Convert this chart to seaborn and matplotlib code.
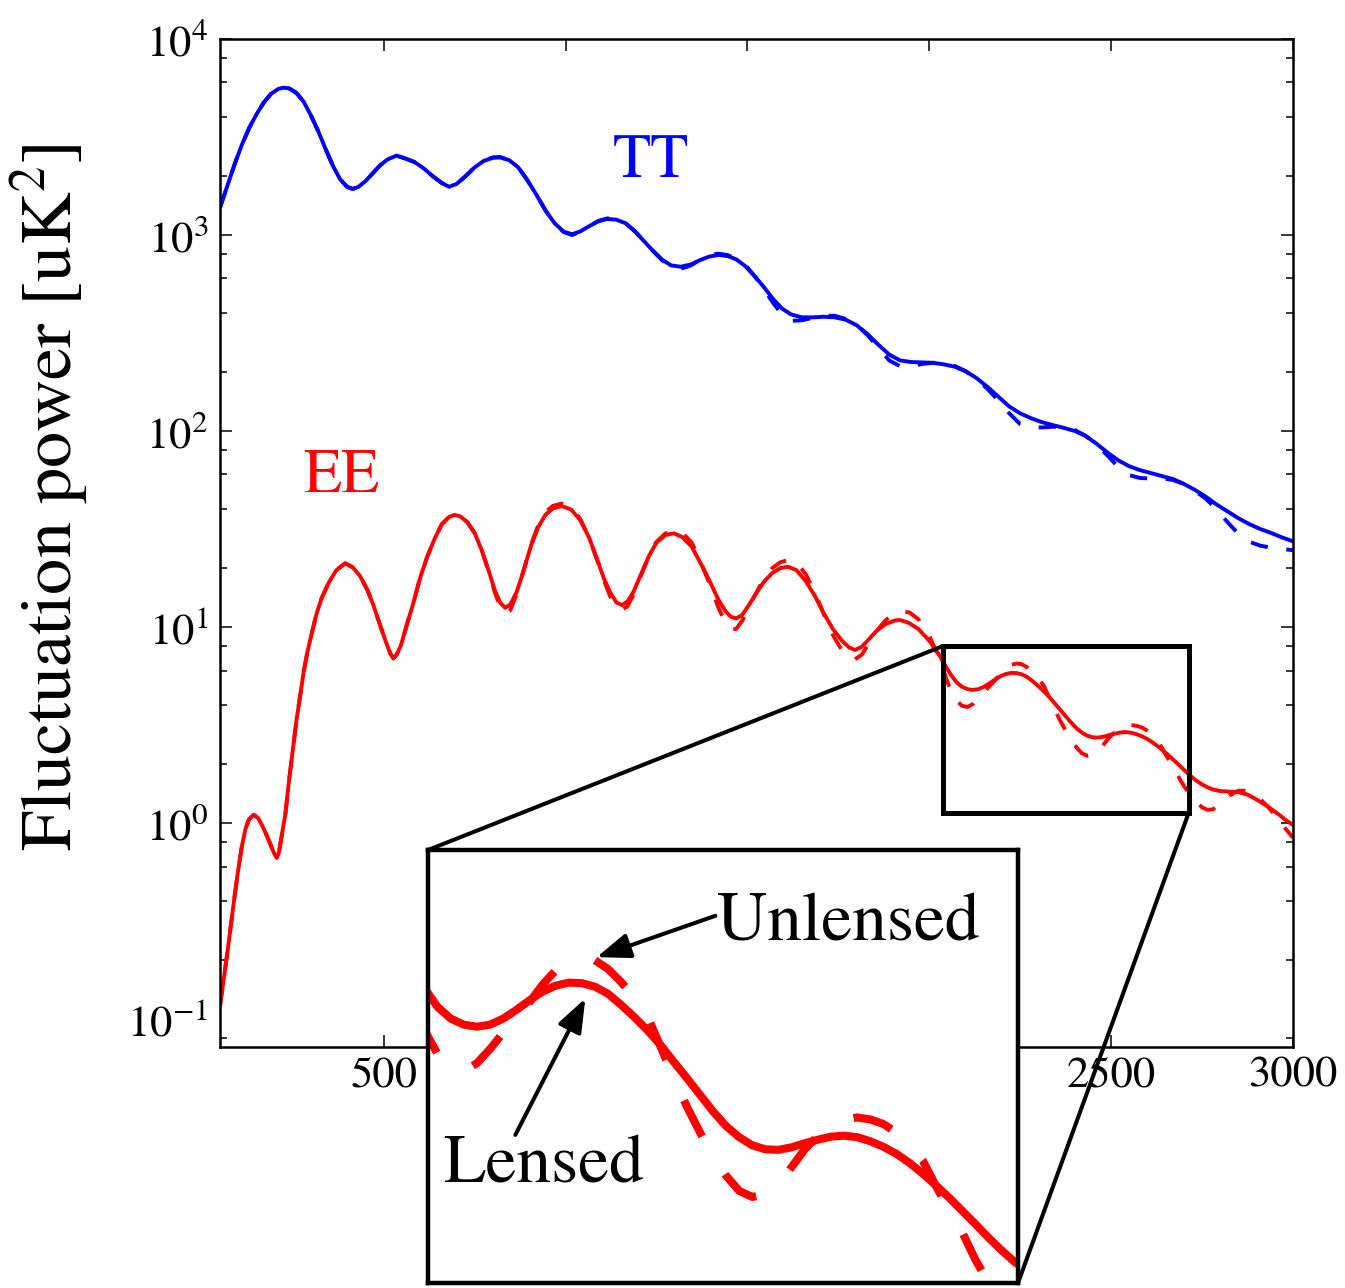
import numpy as np
import matplotlib
matplotlib.use("Agg")
import matplotlib.pyplot as plt
import seaborn as sns
from matplotlib.patches import Rectangle, ConnectionPatch
from matplotlib.ticker import FixedLocator, LogLocator, NullFormatter, NullLocator

# ---------------- data (log10 of D_ell in uK^2) ----------------
tt_ell = [50, 70, 90, 110, 130, 150, 170, 190, 210, 225,
          240, 260, 280, 300, 320, 340, 360, 380, 400, 415,
          430, 450, 470, 490, 510, 535, 560, 585, 610, 635,
          660, 680, 700, 725, 750, 775, 800, 820, 845, 870,
          895, 920, 945, 970, 995, 1018, 1040, 1065, 1090, 1115,
          1140, 1165, 1190, 1215, 1240, 1265, 1290, 1317, 1345, 1370,
          1395, 1420, 1445, 1470, 1495, 1520, 1545, 1570, 1595, 1620,
          1650, 1680, 1710, 1740, 1770, 1800, 1830, 1860, 1890, 1920,
          1950, 1980, 2010, 2040, 2070, 2100, 2130, 2160, 2190, 2220,
          2250, 2280, 2310, 2340, 2370, 2400, 2430, 2460, 2490, 2520,
          2550, 2580, 2610, 2640, 2670, 2700, 2730, 2760, 2790, 2820,
          2850, 2880, 2910, 2940, 2970, 3000]

tt_lensed_log10 = [3.140, 3.250, 3.360, 3.460, 3.545, 3.615, 3.675, 3.720, 3.745, 3.752,
                   3.748, 3.725, 3.680, 3.610, 3.530, 3.440, 3.355, 3.285, 3.245, 3.235,
                   3.245, 3.275, 3.315, 3.355, 3.385, 3.405, 3.390, 3.372, 3.340, 3.300,
                   3.265, 3.246, 3.260, 3.300, 3.345, 3.378, 3.394, 3.396, 3.382, 3.345,
                   3.280, 3.205, 3.125, 3.060, 3.017, 3.004, 3.018, 3.045, 3.070, 3.082,
                   3.078, 3.060, 3.020, 2.970, 2.920, 2.875, 2.845, 2.838, 2.850, 2.872,
                   2.890, 2.898, 2.893, 2.875, 2.840, 2.790, 2.735, 2.675, 2.625, 2.595,
                   2.580, 2.580, 2.583, 2.580, 2.568, 2.540, 2.495, 2.440, 2.390, 2.360,
                   2.352, 2.350, 2.348, 2.340, 2.328, 2.305, 2.270, 2.225, 2.175, 2.125,
                   2.090, 2.065, 2.045, 2.030, 2.016, 2.000, 1.975, 1.935, 1.890, 1.850,
                   1.820, 1.800, 1.785, 1.770, 1.755, 1.730, 1.700, 1.665, 1.625, 1.590,
                   1.555, 1.525, 1.500, 1.480, 1.457, 1.437]

tt_unlensed_log10 = [3.140, 3.250, 3.360, 3.460, 3.545, 3.615, 3.675, 3.720, 3.745, 3.752,
                     3.748, 3.725, 3.680, 3.610, 3.530, 3.440, 3.355, 3.285, 3.245, 3.235,
                     3.245, 3.275, 3.315, 3.355, 3.385, 3.405, 3.390, 3.372, 3.340, 3.300,
                     3.265, 3.246, 3.260, 3.300, 3.345, 3.378, 3.396, 3.398, 3.382, 3.345,
                     3.280, 3.205, 3.125, 3.060, 3.015, 3.000, 3.016, 3.045, 3.072, 3.085,
                     3.080, 3.060, 3.020, 2.970, 2.920, 2.872, 2.838, 2.828, 2.845, 2.875,
                     2.897, 2.905, 2.898, 2.878, 2.845, 2.790, 2.725, 2.655, 2.595, 2.562,
                     2.565, 2.578, 2.588, 2.588, 2.572, 2.540, 2.490, 2.425, 2.360, 2.330,
                     2.330, 2.342, 2.348, 2.345, 2.332, 2.305, 2.265, 2.215, 2.155, 2.090,
                     2.035, 2.020, 2.018, 2.022, 2.020, 2.005, 1.975, 1.930, 1.875, 1.815,
                     1.775, 1.760, 1.758, 1.758, 1.750, 1.730, 1.695, 1.655, 1.600, 1.535,
                     1.475, 1.435, 1.415, 1.405, 1.398, 1.392]

ee_ell = [50, 60, 70, 80, 90, 100, 110, 120, 130, 143,
          155, 168, 180, 192, 200, 206, 212, 220, 230, 240,
          250, 260, 270, 280, 290, 300, 315, 330, 350, 370,
          394, 415, 435, 455, 472, 490, 505, 518, 527, 536,
          548, 565, 582, 600, 620, 640, 660, 680, 695, 710,
          730, 750, 770, 790, 805, 820, 834, 848, 866, 885,
          905, 925, 945, 965, 990, 1015, 1040, 1065, 1087, 1105,
          1123, 1140, 1155, 1170, 1187, 1210, 1230, 1250, 1275, 1298,
          1320, 1347, 1370, 1396, 1420, 1440, 1455, 1469, 1485, 1500,
          1520, 1545, 1568, 1590, 1611, 1635, 1660, 1685, 1710, 1735,
          1760, 1780, 1796, 1815, 1835, 1855, 1880, 1905, 1920, 1945,
          1970, 2000, 2030, 2045, 2060, 2075, 2090, 2105, 2120, 2135,
          2150, 2165, 2180, 2195, 2210, 2225, 2240, 2255, 2270, 2285,
          2300, 2315, 2330, 2345, 2360, 2375, 2390, 2405, 2420, 2435,
          2450, 2465, 2480, 2495, 2510, 2525, 2540, 2555, 2570, 2585,
          2600, 2615, 2630, 2645, 2660, 2675, 2690, 2705, 2720, 2735,
          2750, 2765, 2780, 2800, 2825, 2850, 2875, 2900, 2930, 2960,
          2980, 3000]

ee_lensed_log10 = [-0.930, -0.800, -0.665, -0.520, -0.375, -0.240, -0.120, -0.030, 0.020, 0.042,
                   0.025, -0.020, -0.070, -0.125, -0.160, -0.178, -0.150, -0.060, 0.050, 0.220,
                   0.370, 0.520, 0.645, 0.770, 0.870, 0.950, 1.065, 1.150, 1.230, 1.290,
                   1.325, 1.305, 1.260, 1.190, 1.110, 1.010, 0.930, 0.865, 0.840, 0.860,
                   0.910, 1.020, 1.125, 1.250, 1.360, 1.450, 1.525, 1.562, 1.572, 1.565,
                   1.535, 1.480, 1.390, 1.280, 1.190, 1.125, 1.098, 1.115, 1.180, 1.290,
                   1.415, 1.510, 1.573, 1.605, 1.617, 1.600, 1.547, 1.455, 1.345, 1.250,
                   1.175, 1.125, 1.112, 1.130, 1.180, 1.280, 1.365, 1.430, 1.470, 1.478,
                   1.460, 1.410, 1.330, 1.235, 1.140, 1.080, 1.052, 1.044, 1.060, 1.100,
                   1.160, 1.230, 1.275, 1.300, 1.308, 1.290, 1.235, 1.160, 1.070, 0.990,
                   0.930, 0.895, 0.883, 0.900, 0.940, 0.980, 1.015, 1.033, 1.036, 1.020,
                   0.990, 0.930, 0.850, 0.800, 0.755, 0.718, 0.695, 0.683, 0.679, 0.683,
                   0.695, 0.712, 0.731, 0.748, 0.760, 0.766, 0.765, 0.758, 0.744, 0.722,
                   0.698, 0.672, 0.643, 0.610, 0.578, 0.545, 0.512, 0.483, 0.461, 0.445,
                   0.437, 0.436, 0.441, 0.449, 0.456, 0.462, 0.464, 0.461, 0.453, 0.442,
                   0.428, 0.410, 0.389, 0.366, 0.342, 0.316, 0.290, 0.263, 0.238, 0.215,
                   0.197, 0.182, 0.171, 0.163, 0.160, 0.158, 0.145, 0.120, 0.085, 0.045,
                   0.015, -0.010]

ee_unlensed_log10 = [-0.930, -0.800, -0.665, -0.520, -0.375, -0.240, -0.120, -0.030, 0.020, 0.042,
                     0.025, -0.020, -0.070, -0.125, -0.160, -0.178, -0.150, -0.060, 0.050, 0.220,
                     0.370, 0.520, 0.645, 0.770, 0.870, 0.950, 1.065, 1.150, 1.230, 1.290,
                     1.325, 1.305, 1.260, 1.190, 1.110, 1.010, 0.930, 0.865, 0.840, 0.860,
                     0.910, 1.020, 1.125, 1.250, 1.360, 1.450, 1.525, 1.562, 1.575, 1.568,
                     1.535, 1.480, 1.390, 1.275, 1.180, 1.105, 1.068, 1.085, 1.170, 1.290,
                     1.420, 1.520, 1.585, 1.618, 1.630, 1.612, 1.552, 1.455, 1.340, 1.240,
                     1.155, 1.100, 1.088, 1.105, 1.165, 1.275, 1.365, 1.435, 1.478, 1.490,
                     1.484, 1.430, 1.340, 1.220, 1.100, 1.020, 0.988, 0.990, 1.030, 1.085,
                     1.160, 1.245, 1.300, 1.330, 1.342, 1.330, 1.270, 1.180, 1.065, 0.960,
                     0.880, 0.840, 0.835, 0.860, 0.920, 0.980, 1.035, 1.068, 1.078, 1.075,
                     1.040, 0.955, 0.830, 0.745, 0.672, 0.625, 0.598, 0.592, 0.607, 0.635,
                     0.667, 0.697, 0.727, 0.762, 0.790, 0.807, 0.814, 0.810, 0.793, 0.767,
                     0.737, 0.700, 0.640, 0.578, 0.522, 0.471, 0.423, 0.385, 0.355, 0.343,
                     0.348, 0.368, 0.402, 0.437, 0.463, 0.483, 0.495, 0.500, 0.496, 0.487,
                     0.470, 0.447, 0.415, 0.365, 0.318, 0.274, 0.220, 0.175, 0.140, 0.107,
                     0.080, 0.067, 0.070, 0.100, 0.140, 0.165, 0.165, 0.140, 0.085, 0.020,
                     -0.030, -0.075]

x_ticks = [500, 1000, 1500, 2000, 2500, 3000]
y_major = [1e-1, 1e0, 1e1, 1e2, 1e3, 1e4]
zoom_box_ell = [2038, 2713]          # rectangle drawn on main plot
zoom_box_val = [1.125, 8.0]
inset_ell = [2064, 2739]             # view shown in the inset
inset_val = [1.49, 10.66]

# ---------------- style ----------------
sns.set_theme(style="ticks", rc={"axes.edgecolor": "black", "xtick.color": "black",
                                 "ytick.color": "black", "text.color": "black"})
plt.rcParams["font.family"] = ["STIXGeneral", "DejaVu Serif"]
plt.rcParams["mathtext.fontset"] = "stix"

W, H = 1345, 1288
fig = plt.figure(figsize=(W / 100, H / 100), dpi=100)
fig.patch.set_facecolor("white")


def fx(px):
    return px / W


def fy(py):
    return 1 - py / H


ax = fig.add_axes([fx(220), fy(1047), fx(1293) - fx(220), fy(39) - fy(1047)])
ax.set_facecolor("white")

tt_l = 10 ** np.array(tt_lensed_log10)
tt_u = 10 ** np.array(tt_unlensed_log10)
ee_l = 10 ** np.array(ee_lensed_log10)
ee_u = 10 ** np.array(ee_unlensed_log10)

LW = 2.8
DASH = (0, (4.5, 4.8))
sns.lineplot(x=tt_ell, y=tt_u, ax=ax, color="blue", linewidth=LW, linestyle=DASH,
             estimator=None, sort=False, legend=False)
sns.lineplot(x=tt_ell, y=tt_l, ax=ax, color="blue", linewidth=LW,
             estimator=None, sort=False, legend=False)
sns.lineplot(x=ee_ell, y=ee_u, ax=ax, color="red", linewidth=LW, linestyle=DASH,
             estimator=None, sort=False, legend=False)
sns.lineplot(x=ee_ell, y=ee_l, ax=ax, color="red", linewidth=LW,
             estimator=None, sort=False, legend=False)

ax.set_yscale("log")
ax.set_xlim(50, 3000)
ax.set_ylim(0.072, 1e4)
ax.set_xlabel("")
ax.set_ylabel("")
ax.set_xticks(x_ticks)
ax.xaxis.set_minor_locator(NullLocator())
ax.yaxis.set_major_locator(FixedLocator(y_major))
ax.yaxis.set_minor_locator(LogLocator(base=10, subs=(2, 4, 6, 8), numticks=30))
ax.yaxis.set_minor_formatter(NullFormatter())
ax.tick_params(which="both", direction="in", top=True, right=True, width=1.1)
ax.tick_params(which="major", length=8.6, labelsize=32)
ax.tick_params(which="minor", length=4.7)
ax.tick_params(axis="y", which="major", pad=8.5)
ax.tick_params(axis="x", which="major", pad=7)
for sp in ax.spines.values():
    sp.set_linewidth(1.8)
    sp.set_color("black")
t0 = ax.yaxis.get_major_ticks()[0]
t0.tick1line.set_visible(False)
t0.tick2line.set_visible(False)

ax.text(1236, 1977, "TT", color="blue", fontsize=45, ha="center", va="baseline")
ax.text(383, 48.9, "EE", color="red", fontsize=45, ha="center", va="baseline")

fig.text(fx(50), fy(497), "Fluctuation power [uK$^2$]", rotation=90,
         ha="center", va="center", fontsize=52)

# zoom rectangle
rect = Rectangle((zoom_box_ell[0], zoom_box_val[0]), zoom_box_ell[1] - zoom_box_ell[0],
                 zoom_box_val[1] - zoom_box_val[0], fill=False, lw=3.6, ec="black", zorder=6)
ax.add_patch(rect)

# inset
axins = fig.add_axes([fx(428), fy(1283), fx(1018) - fx(428), fy(850) - fy(1283)])
axins.set_facecolor("white")
ILW = 5.8
sns.lineplot(x=ee_ell, y=ee_u, ax=axins, color="red", linewidth=ILW, linestyle=(0, (5, 5.5)),
             estimator=None, sort=False, legend=False)
sns.lineplot(x=ee_ell, y=ee_l, ax=axins, color="red", linewidth=ILW,
             estimator=None, sort=False, legend=False)
axins.set_yscale("log")
axins.set_xlim(*inset_ell)
axins.set_ylim(*inset_val)
axins.set_xticks([])
axins.set_yticks([])
axins.yaxis.set_minor_locator(NullLocator())
axins.set_xlabel("")
axins.set_ylabel("")
for sp in axins.spines.values():
    sp.set_linewidth(3.2)
    sp.set_color("black")

arrow_kw = dict(arrowstyle="-|>,head_length=0.85,head_width=0.32", mutation_scale=24,
                lw=2.9, color="black", shrinkA=0, shrinkB=0)
axins.annotate("", xy=(2257, 6.55), xycoords="data", xytext=(0.487, 0.848),
               textcoords="axes fraction", arrowprops=arrow_kw)
axins.annotate("", xy=(2244, 5.43), xycoords="data", xytext=(0.148, 0.342),
               textcoords="axes fraction", arrowprops=arrow_kw)
axins.text(0.49, 0.792, "Unlensed", transform=axins.transAxes, fontsize=50,
           ha="left", va="baseline")
axins.text(0.025, 0.231, "Lensed", transform=axins.transAxes, fontsize=50,
           ha="left", va="baseline")

# connector lines
c1 = ConnectionPatch(xyA=(zoom_box_ell[0], zoom_box_val[1]), coordsA=ax.transData,
                     xyB=(0, 1), coordsB=axins.transAxes, lw=2.9, color="black")
c2 = ConnectionPatch(xyA=(zoom_box_ell[1], zoom_box_val[0]), coordsA=ax.transData,
                     xyB=(1, 0), coordsB=axins.transAxes, lw=2.9, color="black")
fig.add_artist(c1)
fig.add_artist(c2)

fig.savefig("out.png", dpi=100, facecolor="white")
